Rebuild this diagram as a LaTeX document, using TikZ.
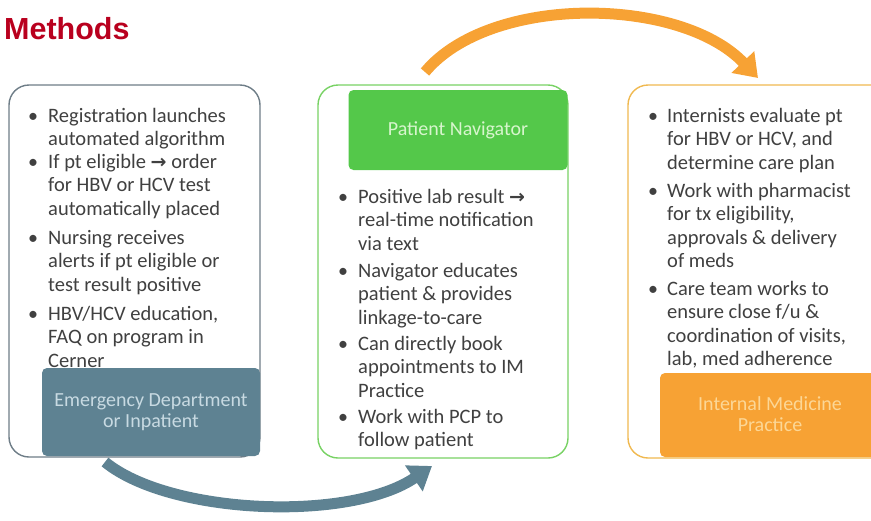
\documentclass[tikz,border=0pt]{standalone}
\usepackage{fontspec}
\setmainfont{Carlito}
\newfontfamily\titlefont{Liberation Sans}
\newfontfamily\symfont{DejaVu Sans}
\usetikzlibrary{arrows.meta}
\definecolor{txtgray}{RGB}{64,64,64}
\definecolor{titlered}{RGB}{185,0,30}
\definecolor{slate}{RGB}{94,130,146}
\definecolor{slateline}{RGB}{110,125,135}
\definecolor{slatetxt}{RGB}{200,218,226}
\definecolor{navgreen}{RGB}{84,200,74}
\definecolor{greenline}{RGB}{120,210,100}
\definecolor{greentxt}{RGB}{215,245,205}
\definecolor{imorange}{RGB}{247,162,52}
\definecolor{orangeline}{RGB}{240,185,80}
\definecolor{orangetxt}{RGB}{252,215,150}
\newcommand\lns[1]{\begin{minipage}[t]{215pt}\fontsize{20.5pt}{23.6pt}\selectfont #1\end{minipage}}
\newcommand\rarr{{\symfont\bfseries\fontsize{19pt}{19pt}\selectfont →}}
\tikzset{
  outer/.style={rounded corners=20pt, line width=1.4pt, fill=white},
  lab/.style={rounded corners=5pt, inner sep=0pt, align=center, font=\fontsize{20pt}{21pt}\selectfont},
  itm/.style={anchor=base west, inner sep=0pt, text=txtgray},
  bul/.style={anchor=base, inner sep=0pt, text=txtgray, font=\fontsize{20pt}{21pt}\selectfont},
  bigarrow/.style={line width=11pt, -{Triangle[width=30pt,length=22pt]}}
}
\begin{document}
\begin{tikzpicture}[x=1pt,y=-1pt]
\useasboundingbox (0,0) rectangle (871,520);
\clip (0,0) rectangle (871,520);
% title
\node[anchor=base west, inner sep=0pt, text=titlered, font=\titlefont\bfseries\fontsize{30.5pt}{31pt}\selectfont] (title) at (4,39) {Methods};
% outer boxes
\draw[outer, draw=slateline] (9,85) rectangle (260,457);
\draw[outer, draw=greenline] (318,85) rectangle (568,458);
\draw[outer, draw=orangeline] (628,85) rectangle (900,458);
% left text
\node[bul] (b1) at (33,122) {•};
\node[itm] (t1) at (48,122) {\lns{Registration launches\\automated algorithm}};
\node[bul] (b2) at (33,168) {•};
\node[itm] (t2) at (48,168) {\lns{If pt eligible \rarr\ order\\for HBV or HCV test\\automatically placed}};
\node[bul] (b3) at (33,244) {•};
\node[itm] (t3) at (48,244) {\lns{Nursing receives\\alerts if pt eligible or\\test result positive}};
\node[bul] (b4) at (33,320) {•};
\node[itm] (t4) at (48,320) {\lns{HBV/HCV education,\\FAQ on program in\\Cerner}};
% middle text
\node[bul] (m1) at (343,203) {•};
\node[itm] (u1) at (358,203) {\lns{Positive lab result \rarr\\real-time notification\\via text}};
\node[bul] (m2) at (343,277) {•};
\node[itm] (u2) at (358,277) {\lns{Navigator educates\\patient \& provides\\linkage-to-care}};
\node[bul] (m3) at (343,350) {•};
\node[itm] (u3) at (358,350) {\lns{Can directly book\\appointments to IM\\Practice}};
\node[bul] (m4) at (343,423) {•};
\node[itm] (u4) at (358,423) {\lns{Work with PCP to\\follow patient}};
% right text
\node[bul] (r1) at (653,122) {•};
\node[itm] (v1) at (667,122) {\lns{Internists evaluate pt\\for HBV or HCV, and\\determine care plan}};
\node[bul] (r2) at (653,197) {•};
\node[itm] (v2) at (667,197) {\lns{Work with pharmacist\\for tx eligibility,\\approvals \& delivery\\of meds}};
\node[bul] (r3) at (653,295) {•};
\node[itm] (v3) at (667,295) {\lns{Care team works to\\ensure close f/u \&\\coordination of visits,\\lab, med adherence}};
% labels
\node[lab, fill=slate, text=slatetxt, minimum width=218pt, minimum height=88pt] (ed) at (151,412) {Emergency Department\\or Inpatient};
\node[lab, fill=navgreen, text=greentxt, minimum width=219pt, minimum height=80pt] (pn) at (458,130) {Patient Navigator};
\node[lab, fill=imorange, text=orangetxt, minimum width=240pt, minimum height=84pt] (im) at (780,415) {};
\node[align=center, inner sep=0pt, text=orangetxt, font=\fontsize{20pt}{21pt}\selectfont] (imt) at (770,414) {Internal Medicine\\Practice};
% arrows
\coordinate (oa) at (425,72);
\coordinate (ob) at (758,78);
\draw[bigarrow, draw=imorange] (oa) .. controls (490,-6) and (680,-4) .. (ob);
\coordinate (ga) at (105,462);
\coordinate (gb) at (432,466);
\draw[bigarrow, draw=slate] (ga) .. controls (170,515) and (350,522) .. (gb);
\end{tikzpicture}
\end{document}
